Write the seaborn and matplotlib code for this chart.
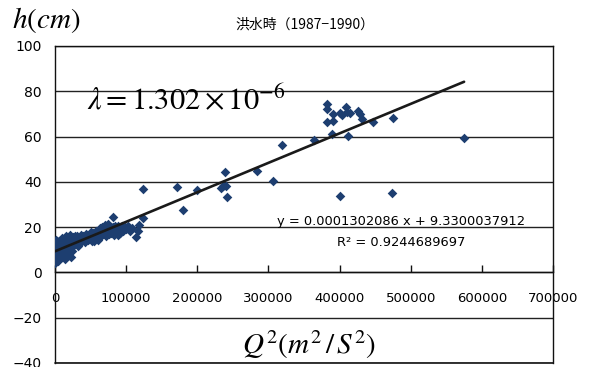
import numpy as np
import pandas as pd
import matplotlib
matplotlib.use('Agg')
import matplotlib.pyplot as plt
import seaborn as sns

# 観測値 (Q^2, h) -- 図から読み取り
q2 = [500, 800, 1000, 1200, 1500, 800, 1500, 2500, 2000, 3000, 2500, 3500,
      4000, 5000, 5500, 6000, 7000, 8000, 9000, 10000, 11000, 12000,
      13000, 14000, 15000, 16000, 17000, 18000, 19000, 20000, 21000, 22000, 23000, 24000, 25000,
      27000, 28000, 30000, 32000, 34000, 36000, 38000, 40000,
      42000, 44000, 46000, 48000, 50000, 52000, 54000, 56000, 58000, 60000, 62000, 63000, 65000,
      66000, 68000, 70000, 71000, 73000, 74000, 76000, 78000, 80000, 82000, 83000, 85000,
      87000, 88000, 90000, 92000, 94000, 96000, 98000, 100000, 103000, 105000, 108000,
      # 密集部の追加
      1000, 2000, 3000, 4500, 6500, 7500, 9500, 11500, 13500, 15500, 17500, 20500,
      26000, 29000, 31000, 33000, 35000, 37000, 39000, 43000, 47000, 51000, 55000,
      59000, 61000, 64000, 67000, 69000, 72000, 75000, 77000, 79000, 81000, 86000,
      89000, 93000, 97000, 101000,
      # 外れ値
      113600, 118300, 117000, 124100, 124100, 171200, 180600, 200200, 232900, 236000,
      239500, 240400, 241300, 283400, 305900, 319400, 363800, 382600, 382600, 391000,
      382600, 391000, 389600, 400300, 402700, 409700, 410000, 414300, 411500, 426500,
      429000, 431200, 447100, 474600, 575200, 400300, 473700]
h = [4.2, 5.5, 7, 8.5, 10, 11.5, 12.5, 6, 9, 11, 13.5, 8,
     5, 9.5, 12, 14, 6.5, 10.5, 13, 15, 8, 11.5,
     14, 6, 9.5, 16, 12.5, 8, 14.5, 11, 16.5, 7, 13, 9.5, 15.5,
     12, 16, 13.5, 11.5, 15, 16.5, 14, 15.5,
     13.5, 17, 14.5, 16, 18, 13.8, 17.5, 15, 18.5, 14.5, 17, 19.5, 16,
     20, 17.5, 21, 16, 19, 21.5, 17, 20, 18.5, 24.5, 16.5, 20.5,
     18, 16.5, 19.5, 17.5, 20.5, 18.5, 20, 19, 20.5, 18.5, 19.5,
     9.5, 14.5, 5.2, 11, 9, 12.5, 7, 13.5, 10.5, 13, 10, 13.5,
     13.5, 14.5, 16, 13.5, 14, 15, 16, 15.5, 15.5, 16.5, 14,
     16, 16, 16.5, 18.5, 19.5, 18, 19, 19, 17.5, 20, 18.5,
     20.5, 19, 19, 20,
     15.8, 20.8, 18.3, 36.8, 24.2, 37.7, 27.6, 36.3, 37.4, 38.2,
     44.2, 38.2, 33.4, 44.9, 40.5, 56.1, 58.6, 74.4, 72.1, 69.9,
     66.4, 66.8, 61.0, 70.6, 69.7, 73.2, 71.0, 70.6, 60.1, 71.3,
     69.9, 67.8, 66.5, 68.4, 59.2, 33.9, 35.2]

# 近似直線
slope = 0.0001302086
intercept = 9.3300037912
line_x = [0, 575000]

yticks = [-40, -20, 0, 20, 40, 60, 80, 100]
xticks = [0, 100000, 200000, 300000, 400000, 500000, 600000, 700000]

df = pd.DataFrame({'Q2': q2, 'h': h})
df_line = pd.DataFrame({'Q2': line_x})
df_line['h'] = slope * df_line['Q2'] + intercept

sns.set_theme(style='white')
plt.rcParams['mathtext.fontset'] = 'stix'
plt.rcParams['font.family'] = ['DejaVu Sans']
plt.rcParams['text.color'] = 'black'
plt.rcParams['xtick.color'] = 'black'
plt.rcParams['ytick.color'] = 'black'

fig = plt.figure(figsize=(5.89, 3.67), dpi=100)
ax = fig.add_axes([0.0934, 0.0109, 0.8455, 0.8638])

sns.scatterplot(data=df, x='Q2', y='h', marker='D', s=24, color='#1d3e70',
                edgecolor='#1d3e70', linewidth=0, ax=ax, zorder=3)
sns.lineplot(data=df_line, x='Q2', y='h', color='#1a1a1a', lw=1.9, ax=ax, zorder=4)

ax.set_xlim(0, 700000)
ax.set_ylim(-40, 100)
ax.set_xticks(xticks)
ax.set_yticks(yticks)
ax.set_xticklabels([str(v) for v in xticks])
ax.set_yticklabels([str(v).replace('-', '\u2212') for v in yticks])
ax.set_xlabel('')
ax.set_ylabel('')

ax.yaxis.grid(True, color='#222222', lw=1.0)
ax.xaxis.grid(False)
ax.set_axisbelow(True)
for s in ['left', 'right', 'top', 'bottom']:
    ax.spines[s].set_visible(True)
    ax.spines[s].set_color('#111111')
    ax.spines[s].set_linewidth(1.0)
ax.spines['bottom'].set_position(('data', 0))
ax.axhline(-40, color='#111111', lw=1.2, clip_on=False)

ax.tick_params(axis='x', direction='in', length=5, width=1, color='#111111',
               labelcolor='black', pad=14, labelsize=9.5, bottom=True)
ax.tick_params(axis='y', length=0, pad=9.5, labelsize=10, left=False, labelcolor='black')

fig.text(305 / 589, 1 - 25 / 367, '洪水時（1987\u22121990）', ha='center', va='center',
         fontsize=10, family=['Noto Sans CJK JP', 'DejaVu Sans'])
fig.text(12 / 589, 1 - 20 / 367, r'$h(cm)$', ha='left', va='center', fontsize=21)
fig.text(186 / 589, 1 - 100 / 367, r'$\lambda=1.302\times10^{-6}$', ha='center',
         va='center', fontsize=22)
fig.text(401 / 589, 1 - 221 / 367, 'y = 0.0001302086 x + 9.3300037912', ha='center',
         va='center', fontsize=9.4)
fig.text(401 / 589, 1 - 243 / 367, 'R\u00b2 = 0.9244689697', ha='center',
         va='center', fontsize=9.4)
fig.text(309 / 589, 1 - 345 / 367, r'$Q^2(m^2\,/\,S^2)$', ha='center', va='center',
         fontsize=21)

fig.savefig('out.png', dpi=100)
